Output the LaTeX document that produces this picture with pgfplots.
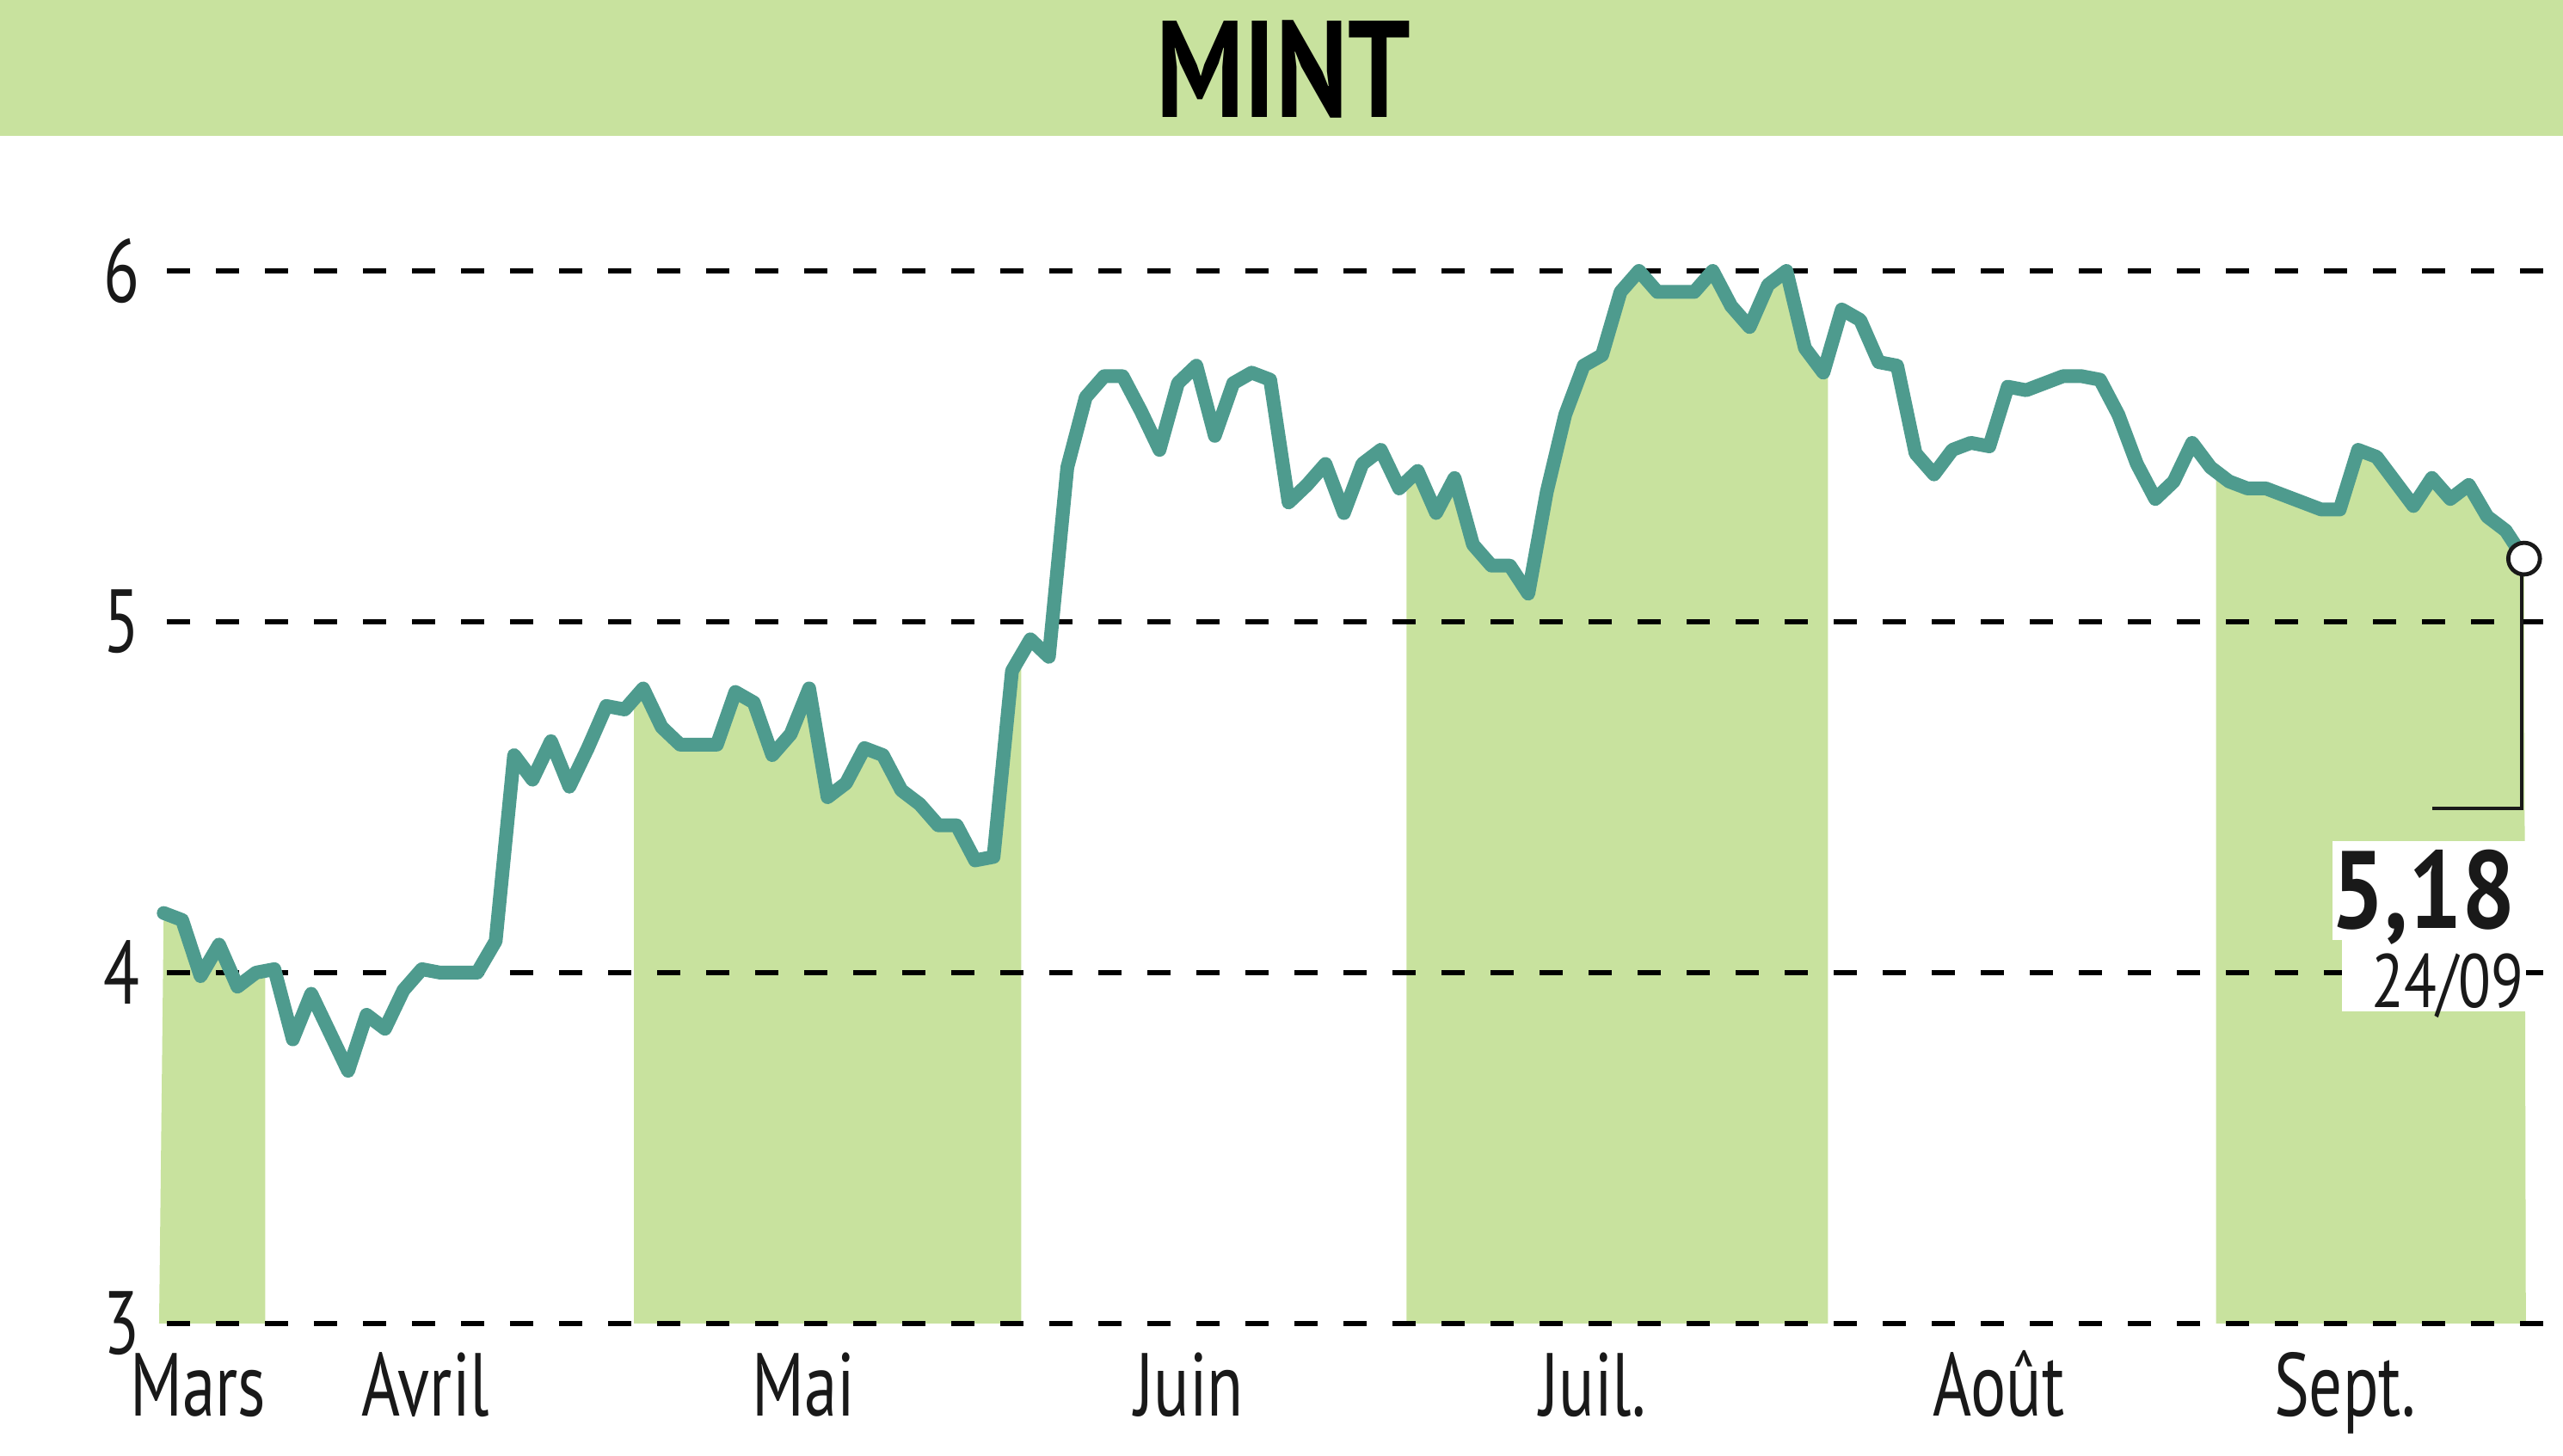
\documentclass[border=0pt]{standalone}
\usepackage{fontspec}
\usepackage{pgfplots}
\usepackage{pgfplotstable}
\pgfplotsset{compat=1.18}
\usepgfplotslibrary{fillbetween}
\setmainfont{PT Sans}[FakeStretch=0.74]
\newfontfamily\titlefont{PT Sans}[FakeStretch=0.80]
\newfontfamily\valfont{PT Sans}[FakeStretch=0.86]
\newfontfamily\datefont{PT Sans}[FakeStretch=0.79]
\definecolor{bandgreen}{HTML}{C8E29E}
\definecolor{linegreen}{HTML}{4E9B8E}
\pgfplotstableread{
i v
0 4.17
1 4.15
2 3.99
3 4.08
4 3.96
5 4.00
6 4.01
7 3.81
8 3.94
9 3.83
10 3.72
11 3.88
12 3.84
13 3.95
14 4.01
15 4.00
16 4.00
17 4.00
18 4.09
19 4.62
20 4.55
21 4.66
22 4.53
23 4.64
24 4.76
25 4.75
26 4.81
27 4.70
28 4.65
29 4.65
30 4.65
31 4.80
32 4.77
33 4.62
34 4.68
35 4.81
36 4.50
37 4.54
38 4.64
39 4.62
40 4.52
41 4.48
42 4.42
43 4.42
44 4.32
45 4.33
46 4.86
47 4.95
48 4.90
49 5.44
50 5.64
51 5.70
52 5.70
53 5.60
54 5.49
55 5.68
56 5.73
57 5.53
58 5.68
59 5.71
60 5.69
61 5.34
62 5.39
63 5.45
64 5.31
65 5.45
66 5.49
67 5.38
68 5.43
69 5.31
70 5.41
71 5.22
72 5.16
73 5.16
74 5.08
75 5.37
76 5.59
77 5.73
78 5.76
79 5.94
80 6.00
81 5.94
82 5.94
83 5.94
84 6.00
85 5.90
86 5.84
87 5.96
88 6.00
89 5.78
90 5.71
91 5.89
92 5.86
93 5.74
94 5.73
95 5.48
96 5.42
97 5.49
98 5.51
99 5.50
100 5.67
101 5.66
102 5.68
103 5.70
104 5.70
105 5.69
106 5.59
107 5.45
108 5.35
109 5.40
110 5.51
111 5.44
112 5.40
113 5.38
114 5.38
115 5.36
116 5.34
117 5.32
118 5.32
119 5.49
120 5.47
121 5.40
122 5.33
123 5.41
124 5.35
125 5.39
126 5.30
127 5.26
128 5.18
}\prices
\begin{document}
\begin{tikzpicture}
\fill[white] (0,0) rectangle (745pt,423.25pt);
\fill[bandgreen] (0,383.75pt) rectangle (745pt,423.25pt);
\node[anchor=base, inner sep=0pt, text=black] at (373pt,389pt)
  {\titlefont\bfseries\fontsize{40}{40}\selectfont MINT};
\begin{axis}[
  at={(46.25pt,38.5pt)}, anchor=south west,
  width=698.75pt, height=341.7pt, scale only axis,
  xmin=-0.25, xmax=130.11, ymin=3, ymax=6.35,
  clip=false,
  axis line style={draw=none},
  major tick length=0pt,
  ytick={3,4,5,6},
  xtick={1.87,14.2,34.7,55.6,77.5,99.5,118.3},
  xticklabels={Mars,Avril,Mai,Juin,Juil.,Août,Sept.},
  /pgf/number format/assume math mode=true,
  ticklabel style={font=\fontsize{26}{26}\selectfont, text=black!90},
  yticklabel style={anchor=east, inner sep=0pt, xshift=-5.5pt},
  xticklabel style={anchor=base, inner sep=0pt, yshift=-27pt},
  fill between/on layer=main,
]
\addplot[name path=price, draw=none, forget plot] table[x=i,y=v] {\prices};
\path[name path=base] (axis cs:-1,3) -- (axis cs:131,3);
\addplot[fill=bandgreen, draw=none] fill between[of=price and base, soft clip={domain=-0.25:5.5}];
\addplot[fill=bandgreen, draw=none] fill between[of=price and base, soft clip={domain=25.5:46.5}];
\addplot[fill=bandgreen, draw=none] fill between[of=price and base, soft clip={domain=67.4:90.25}];
\addplot[fill=bandgreen, draw=none] fill between[of=price and base, soft clip={domain=111.3:128.1}];
\pgfplotsinvokeforeach{3,4,5,6}{
  \draw[black, line width=1.5pt, dash pattern=on 6.75pt off 7.5pt] (axis cs:0.19,#1) -- (axis cs:130.11,#1);
}
\addplot[linegreen, line width=4pt, line join=round, line cap=round] table[x=i,y=v] {\prices};
% annotation
\fill[white] (axis cs:117.6,4.093) rectangle (axis cs:128.1,4.375);
\fill[white] (axis cs:118.1,3.890) rectangle (axis cs:128.1,4.094);
\draw[black!90, line width=1pt] (axis cs:127.85,5.16) -- (axis cs:127.85,4.468) -- (axis cs:123.0,4.468);
\addplot[only marks, mark=*, mark size=4.6pt, mark options={fill=white, draw=black!90, line width=1.2pt}] coordinates {(128,5.18)};
\node[anchor=base east, inner sep=0pt, text=black!90] at (axis cs:127.6,4.125)
  {\valfont\bfseries\fontsize{32}{32}\selectfont 5,18};
\node[anchor=base east, inner sep=0pt, text=black!90] at (axis cs:128.0,3.90)
  {\datefont\fontsize{22}{22}\selectfont 24/09};
\end{axis}
\pgfresetboundingbox
\useasboundingbox (0,0) rectangle (745pt,423.25pt);
\end{tikzpicture}
\end{document}
